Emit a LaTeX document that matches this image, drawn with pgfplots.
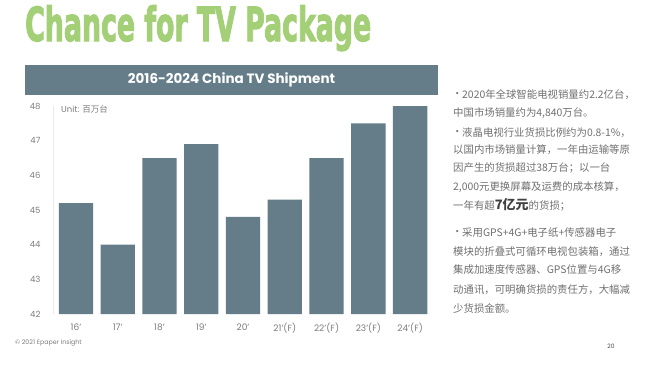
\documentclass[border=0pt]{standalone}
\usepackage{pgfplots}
\pgfplotsset{compat=1.18}
\usepackage{pgfplotstable}
\usepackage{graphicx}
\usepackage{fontspec}
\setmainfont{Poppins}
\newfontfamily\cjk{Noto Sans CJK SC}
\newfontfamily\titlefont{DejaVu Sans Condensed}[BoldFeatures={FakeBold=2.5}]
\definecolor{barc}{RGB}{100,125,137}
\definecolor{titlegreen}{RGB}{163,207,118}
\definecolor{txtgray}{RGB}{112,112,112}
\definecolor{lblgray}{RGB}{125,125,125}

\pgfplotstableread{
x y
0 45.2
1 44.0
2 46.5
3 46.9
4 44.8
5 45.3
6 46.5
7 47.5
8 48.0
}\shipment

\begin{document}
\begin{tikzpicture}
\path[fill=white] (0pt,0pt) rectangle (655pt,-364pt);
% title
\node[anchor=base west, inner sep=0pt, text=titlegreen] at (25pt,-41pt)
  {\resizebox{346pt}{\height}{\titlefont\bfseries\fontsize{47}{47}\selectfont Chance for TV Package}};
% header bar
\fill[barc] (25pt,-65pt) rectangle (438pt,-95pt);
\node[text=white, font=\bfseries\fontsize{13.5}{14}\selectfont] at (231.5pt,-80pt) {2016-2024 China TV Shipment};

\begin{axis}[
  at={(53pt,-314pt)}, anchor=south west,
  scale only axis, width=378pt, height=208pt,
  xmin=-0.55, xmax=8.5, ymin=42, ymax=48,
  ybar, bar width=34.3pt,
  ytick={42,43,44,45,46,47,48},
  xtick={0,...,8},
  xticklabels={16',17',18',19',20',21'(F),22'(F),23'(F),24'(F)},
  axis x line*=bottom,
  axis y line*=left,
  x axis line style={draw=none},
  y axis line style={draw=black!8},
  major tick length=0pt,
  /pgf/number format/assume math mode=true,
  yticklabel style={font=\fontsize{8.5}{10}\selectfont, text=lblgray, xshift=-9pt},
  xticklabel style={font=\fontsize{9}{10}\selectfont, text=lblgray, yshift=-6pt},
  clip=true,
]
\addplot[fill=barc, draw=none] table[x=x,y=y] {\shipment};
\end{axis}

\node[anchor=west, text=lblgray, font=\fontsize{8.5}{10}\selectfont, inner sep=0pt] at (61pt,-109pt) {Unit: {\cjk 百万台}};

% right text
\begin{scope}[every node/.style={anchor=west, inner sep=0pt, text=txtgray, font=\cjk\fontsize{10.4}{12}\selectfont}]
\node at (452pt,-95pt) {•};
\node at (462pt,-95pt) {2020年全球智能电视销量约2.2亿台，};
\node at (453pt,-113pt) {中国市场销量约为4,840万台。};
\node at (452pt,-133pt) {•};
\node at (462pt,-133pt) {液晶电视行业货损比例约为0.8-1\%，};
\node at (453pt,-150pt) {以国内市场销量计算，一年由运输等原};
\node at (453pt,-168pt) {因产生的货损超过38万台；以一台};
\node at (453pt,-187pt) {2,000元更换屏幕及运费的成本核算，};
\node at (453pt,-205pt) {一年有超{\bfseries\fontsize{13}{13}\selectfont\color{black!75}7亿元}的货损；};
\node at (452pt,-233pt) {•};
\node at (462pt,-233pt) {采用GPS+4G+电子纸+传感器电子};
\node at (453pt,-252pt) {模块的折叠式可循环电视包装箱，通过};
\node at (453pt,-270pt) {集成加速度传感器、GPS位置与4G移};
\node at (453pt,-290pt) {动通讯，可明确货损的责任方，大幅减};
\node at (453pt,-309pt) {少货损金额。};
\end{scope}

\node[anchor=west, inner sep=0pt, text=lblgray, font=\fontsize{6.3}{7}\selectfont] at (15pt,-343pt) {© 2021 Epaper Insight};
\node[inner sep=0pt, text=black!70, font=\fontsize{6}{7}\selectfont] at (611pt,-346pt) {20};
\end{tikzpicture}
\end{document}
